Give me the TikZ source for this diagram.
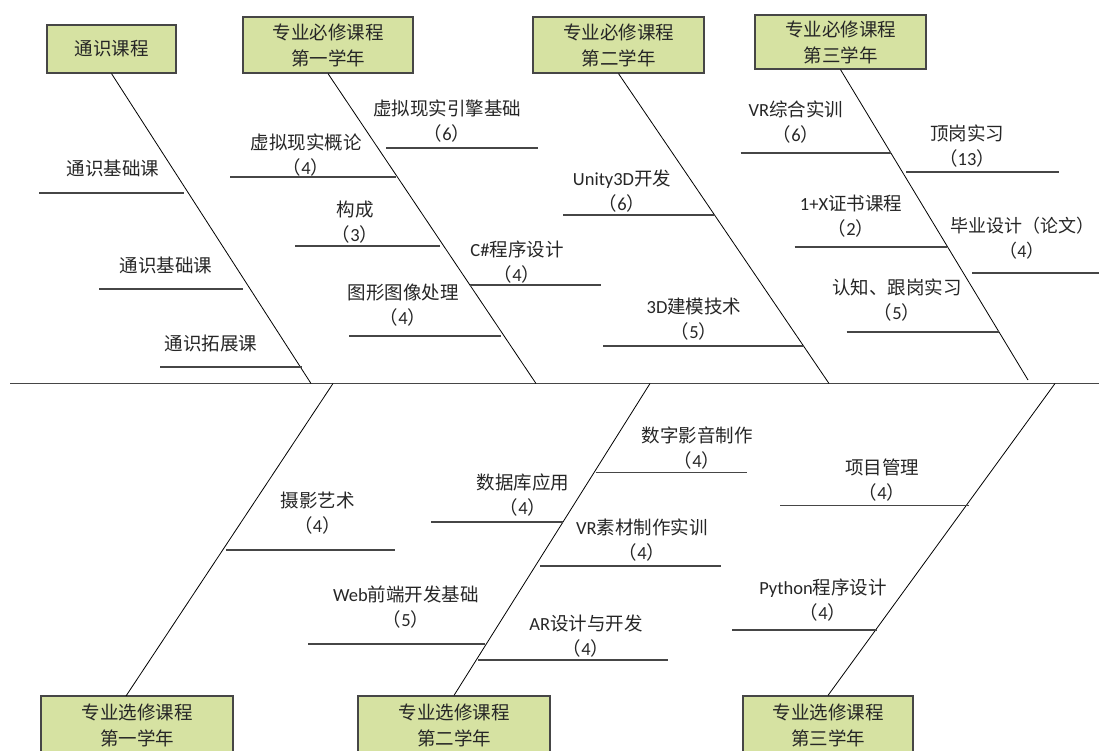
\documentclass[tikz,border=0pt]{standalone}
\usepackage{fontspec}
\setmainfont{Noto Sans CJK SC}
\newfontfamily\latfont{Carlito}
\newcommand\Lx[1]{{\latfont #1}}
\definecolor{boxgreen}{RGB}{214,226,162}
\definecolor{ink}{RGB}{38,38,38}
\definecolor{linegray}{RGB}{70,70,70}
\begin{document}
\begin{tikzpicture}[x=1pt,y=-1pt,
  lbl/.style={align=center,font=\fontsize{18.5}{25}\selectfont,text=ink,inner sep=0pt},
  catbox/.style={draw=linegray,line width=1.2pt,fill=boxgreen,align=center,font=\fontsize{18.5}{26}\selectfont,text=ink,inner sep=0pt},
  bone/.style={draw=black,line width=0.8pt},
  rib/.style={draw=linegray,line width=1.2pt},
  spineline/.style={draw=linegray,line width=1.5pt}]
\clip (0,0) rectangle (1099,751);
\fill[white] (0,0) rectangle (1099,751);
% spine
\coordinate (sp0) at (10,383.5);
\coordinate (sp1) at (1099,383.5);
\draw[spineline] (sp0) -- (sp1);
% top boxes
\node[catbox,minimum width=129,minimum height=48] (t1) at (111.5,49) {通识课程};
\node[catbox,minimum width=170,minimum height=56] (t2) at (328,45) {专业必修课程\\第一学年};
\node[catbox,minimum width=171,minimum height=56] (t3) at (618.5,45) {专业必修课程\\第二学年};
\node[catbox,minimum width=171,minimum height=54] (t4) at (840.5,42) {专业必修课程\\第三学年};
% bottom boxes
\node[catbox,minimum width=192,minimum height=80] (b1) at (137,736) {};
\node[catbox,minimum width=192,minimum height=80] (b2) at (454,736) {};
\node[catbox,minimum width=170,minimum height=80] (b3) at (828,736) {};
\node[lbl,font=\fontsize{18.5}{26}\selectfont] (b1t) at (137,725) {专业选修课程\\第一学年};
\node[lbl,font=\fontsize{18.5}{26}\selectfont] (b2t) at (454,725) {专业选修课程\\第二学年};
\node[lbl,font=\fontsize{18.5}{26}\selectfont] (b3t) at (828,725) {专业选修课程\\第三学年};
% bone ends on spine
\coordinate (e1) at (311,383.5);
\coordinate (e2) at (536,383.5);
\coordinate (e3) at (829,383.5);
\coordinate (e4) at (1028,380);
\coordinate (f1) at (333,383.5);
\coordinate (f2) at (650,383.5);
\coordinate (f3) at (1055,383.5);
\coordinate (g1) at (126,696);
\draw[bone] (t1.south) -- (e1);
\draw[bone] (t2.south) -- (e2);
\draw[bone] (t3.south) -- (e3);
\draw[bone] (t4.south) -- (e4);
\draw[bone] (f1) -- (g1);
\draw[bone] (f2) -- (b2.north);
\draw[bone] (f3) -- (b3.north);
% ribs top
\draw[rib] (39,193) -- (183.5,193);
\draw[rib] (99,289) -- (243,289);
\draw[rib] (160,367) -- (302,367);
\draw[rib] (230,177) -- (396,177);
\draw[rib] (295,246) -- (440,246);
\draw[rib] (349,336) -- (501,336);
\draw[rib] (386,148) -- (538,148);
\draw[rib] (469.5,285) -- (601,285);
\draw[rib] (563,215) -- (715,215);
\draw[rib] (603,346) -- (804,346);
\draw[rib] (740.5,153) -- (891,153);
\draw[rib] (906,172) -- (1059,172);
\draw[rib] (794.5,247) -- (946.5,247);
\draw[rib] (972,273) -- (1099,273);
\draw[rib] (846.5,332) -- (999,332);
% ribs bottom
\draw[rib] (226,550) -- (395,550);
\draw[rib] (308,644) -- (485,644);
\draw[rib] (431,522) -- (563,522);
\draw[rib] (595.6,472.7) -- (747,472.7);
\draw[rib] (540,566) -- (721,566);
\draw[rib] (478,660) -- (667.5,660);
\draw[rib] (780,505.7) -- (969,505.7);
\draw[rib] (732,630) -- (877,630);
% labels top
\node[lbl] (a1) at (113,168) {通识基础课};
\node[lbl] (a2) at (166,265) {通识基础课};
\node[lbl] (a3) at (211,343) {通识拓展课};
\node[lbl] (a4) at (306,155.5) {虚拟现实概论\\（\Lx{4}）};
\node[lbl] (a5) at (355,222.5) {构成\\（\Lx{3}）};
\node[lbl] (a6) at (403,305.5) {图形图像处理\\（\Lx{4}）};
\node[lbl] (a7) at (447,121.5) {虚拟现实引擎基础\\（\Lx{6}）};
\node[lbl] (a8) at (517,262) {\Lx{C\#}程序设计\\（\Lx{4}）};
\node[lbl] (a9) at (622,191.5) {\Lx{Unity3D}开发\\（\Lx{6}）};
\node[lbl] (a10) at (694,319.5) {\Lx{3D}建模技术\\（\Lx{5}）};
\node[lbl] (a11) at (796,122) {\Lx{VR}综合实训\\（\Lx{6}）};
\node[lbl] (a12) at (967,146) {顶岗实习\\（\Lx{13}）};
\node[lbl] (a13) at (851,216) {\Lx{1+X}证书课程\\（\Lx{2}）};
\node[lbl,font=\fontsize{18}{25}\selectfont] (a14) at (1022,238.5) {毕业设计（论文）\\（\Lx{4}）};
\node[lbl] (a15) at (897,300.5) {认知、跟岗实习\\（\Lx{5}）};
% labels bottom
\node[lbl] (c1) at (317.5,513) {摄影艺术\\（\Lx{4}）};
\node[lbl] (c2) at (406,607) {\Lx{Web}前端开发基础\\（\Lx{5}）};
\node[lbl] (c3) at (523,495) {数据库应用\\（\Lx{4}）};
\node[lbl] (c4) at (697,448.5) {数字影音制作\\（\Lx{4}）};
\node[lbl] (c5) at (642,540) {\Lx{VR}素材制作实训\\（\Lx{4}）};
\node[lbl] (c6) at (586,636) {\Lx{AR}设计与开发\\（\Lx{4}）};
\node[lbl] (c7) at (882,480) {项目管理\\（\Lx{4}）};
\node[lbl] (c8) at (823,600) {\Lx{Python}程序设计\\（\Lx{4}）};
\end{tikzpicture}
\end{document}
